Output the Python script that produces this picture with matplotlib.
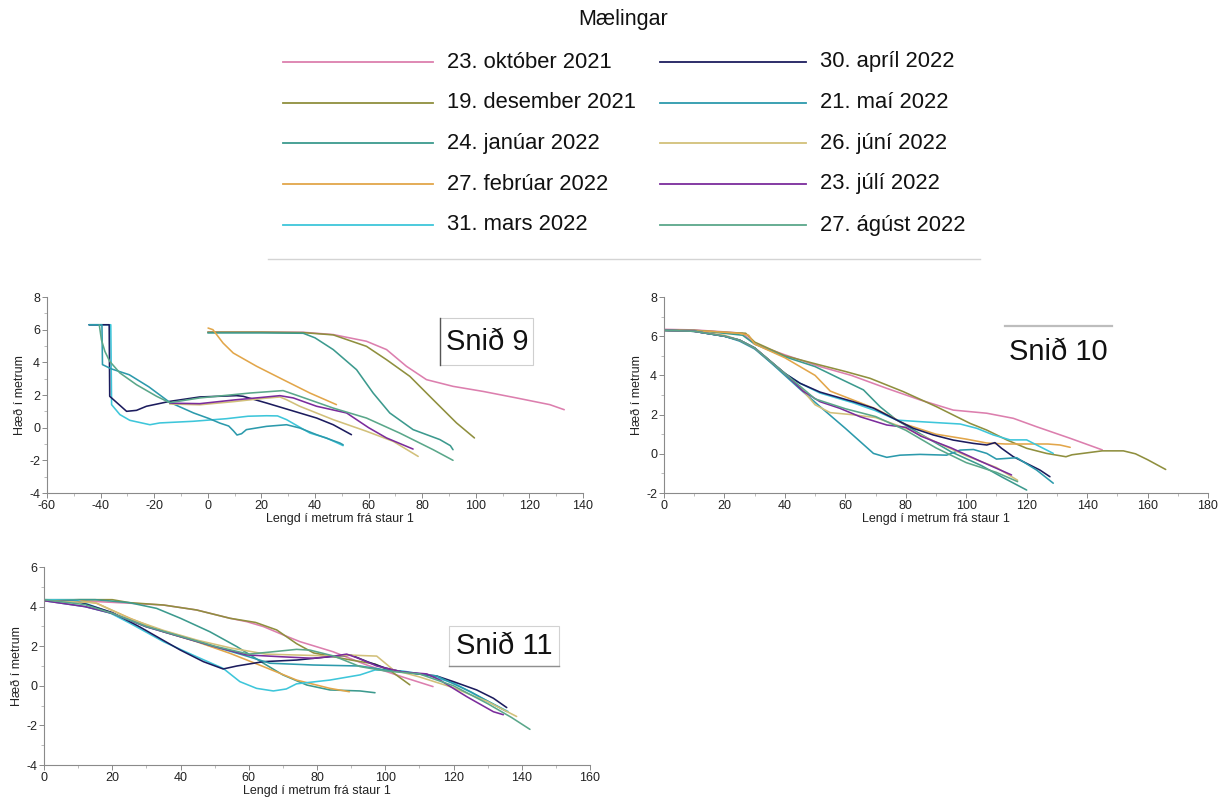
import matplotlib
matplotlib.use("Agg")
import matplotlib.pyplot as plt
from matplotlib.lines import Line2D
from matplotlib.patches import Rectangle
from matplotlib.ticker import MultipleLocator

plt.rcParams['font.family'] = ['Liberation Sans', 'DejaVu Sans']
plt.rcParams['axes.unicode_minus'] = False

# ---------------------------------------------------------------- legend
dates = ["23. október 2021", "19. desember 2021", "24. janúar 2022",
         "27. febrúar 2022", "31. mars 2022", "30. apríl 2022",
         "21. maí 2022", "26. júní 2022", "23. júlí 2022", "27. ágúst 2022"]
colors = ["#dc7fae", "#8f8f3e", "#3c9a8e", "#e2a64a", "#3ec6da",
          "#1c1c5e", "#2c9aac", "#d2c07a", "#7b2c9c", "#5aa78a"]
keys = ["okt", "des", "jan", "feb", "mars", "apr", "mai", "jun", "jul", "agu"]

# ---------------------------------------------------------------- Snið 9
s9_okt_x = [0, 20, 35.6, 46.8, 59.2, 66.7, 74.1, 81.6, 91.5, 102.7, 115.2, 127.6, 133]
s9_okt_y = [5.85, 5.85, 5.84, 5.7, 5.29, 4.78, 3.76, 2.94, 2.53, 2.22, 1.82, 1.41, 1.1]
s9_des_x = [0, 20, 35.6, 46.8, 59.2, 66.7, 75.4, 84.1, 92.8, 99.5]
s9_des_y = [5.85, 5.85, 5.82, 5.68, 4.98, 4.16, 3.14, 1.71, 0.29, -0.63]
s9_jan_x = [0, 20, 35.6, 40, 46.8, 55.5, 61.7, 67.9, 76.6, 86.6, 90.5, 91.5]
s9_jan_y = [5.8, 5.8, 5.78, 5.5, 4.78, 3.55, 2.12, 0.9, -0.12, -0.73, -1.1, -1.35]
s9_feb_x = [0.1, 1.9, 5.7, 9.5, 18.2, 28.1, 38.1, 48]
s9_feb_y = [6.1, 6.0, 5.18, 4.57, 3.76, 2.94, 2.12, 1.41]
s9_mars_x = [-44.3, -36.2, -35.9, -32.8, -29.1, -21.6, -17.9, -5.5, 7, 15, 21.9, 26, 29.4, 38.1, 44.3, 50.5]
s9_mars_y = [6.3, 6.3, 1.41, 0.8, 0.45, 0.18, 0.29, 0.39, 0.55, 0.7, 0.73, 0.72, 0.49, -0.33, -0.63, -1.1]
s9_apr_x = [-44.3, -36.8, -36.6, -30.3, -26.6, -22.9, -14.2, -3, 10.7, 13.2, 21.9, 34.3, 40.6, 46.8, 53.6]
s9_apr_y = [6.3, 6.3, 1.92, 1.0, 1.06, 1.31, 1.61, 1.88, 1.96, 1.92, 1.51, 0.9, 0.59, 0.18, -0.43]
s9_mai_x = [-44.3, -39.5, -39.3, -36, -29.3, -22, -14.2, -5.3, 0.6, 4.5, 7.8, 9.6, 10.9, 12.6, 14.4,
            21.9, 29.4, 34.3, 40.6, 49.3, 50.5]
s9_mai_y = [6.3, 6.3, 3.86, 3.6, 3.24, 2.5, 1.55, 0.9, 0.55, 0.28, 0.1, -0.2, -0.45, -0.37, -0.12,
            0.08, 0.18, -0.02, -0.43, -0.94, -1.05]
s9_jun_x = [-14.2, -3, 10, 20, 26.9, 29.4, 34.3, 46.8, 59.2, 69.2, 78.5]
s9_jun_y = [1.45, 1.4, 1.6, 1.78, 1.88, 1.71, 1.31, 0.49, -0.22, -0.84, -1.76]
s9_jul_x = [-14.2, -3, 10, 20, 26.9, 31.9, 40.6, 51.8, 60, 66.7, 76.6]
s9_jul_y = [1.5, 1.47, 1.7, 1.85, 1.96, 1.82, 1.31, 0.9, 0.0, -0.63, -1.31]
s9_agu_x = [-40.5, -39.7, -38.4, -36.6, -32.8, -26.6, -19.1, -14.2, -3, 15.7, 28.1, 34.3, 46.8,
            59.2, 71.6, 84.1, 91.5]
s9_agu_y = [6.3, 5.39, 4.67, 4.06, 3.35, 2.63, 1.92, 1.53, 1.82, 2.12, 2.27, 1.92, 1.2,
            0.59, -0.33, -1.35, -2.0]

# ---------------------------------------------------------------- Snið 10
s10_okt_x = [0, 10, 20, 26, 30, 40, 51.6, 62, 73.7, 84.7, 95.7, 106.8, 115.6, 123.3, 134.4, 145]
s10_okt_y = [6.35, 6.32, 6.22, 6.15, 5.6, 5.05, 4.45, 4.0, 3.34, 2.75, 2.23, 2.07, 1.81, 1.38, 0.79, 0.2]
s10_des_x = [0, 10, 20, 27, 30, 40, 51.6, 60, 68.2, 79.2, 90.2, 101.3, 106.8, 113.4, 120, 126.6,
             133, 135, 140, 145, 152, 156, 160, 166]
s10_des_y = [6.3, 6.3, 6.2, 6.15, 5.7, 5.0, 4.53, 4.2, 3.85, 3.17, 2.4, 1.55, 1.21, 0.71, 0.28, 0.02,
             -0.15, -0.05, 0.05, 0.15, 0.15, 0.0, -0.3, -0.8]
s10_jan_x = [0, 10, 20, 26, 30, 40, 50, 58, 66, 71.5, 77, 85, 95, 105, 112, 120]
s10_jan_y = [6.3, 6.28, 6.15, 6.05, 5.6, 4.95, 4.45, 3.85, 3.26, 2.4, 1.72, 1.0, 0.1, -0.6, -1.2, -1.85]
s10_feb_x = [0, 15, 25, 28, 30, 40, 50, 55, 60, 70, 80, 90, 100, 106.8, 113, 120, 127, 131, 134.4]
s10_feb_y = [6.3, 6.25, 6.15, 6.05, 5.6, 4.9, 4.0, 3.2, 2.9, 2.3, 1.5, 1.0, 0.75, 0.55, 0.5, 0.5,
             0.5, 0.45, 0.33]
s10_mars_x = [0, 10, 20, 25, 30, 35, 40, 45, 51.6, 62.6, 70, 77, 84.7, 98, 103.5, 109, 114.5, 120,
              123.3, 128.8]
s10_mars_y = [6.3, 6.25, 6.0, 5.8, 5.4, 4.7, 4.1, 3.6, 3.1, 2.6, 2.2, 1.72, 1.64, 1.52, 1.3, 0.96,
              0.71, 0.71, 0.45, 0.02]
s10_apr_x = [0, 10, 20, 25, 30, 35, 40, 45, 51.6, 62.6, 69.3, 75.9, 82.5, 89.1, 95.7, 102.4, 106.8,
             109.5, 111.7, 115.6, 120, 124.4, 127.7]
s10_apr_y = [6.3, 6.25, 6.0, 5.8, 5.4, 4.75, 4.1, 3.6, 3.15, 2.66, 2.33, 1.81, 1.3, 0.96, 0.7, 0.53,
             0.45, 0.57, 0.28, -0.15, -0.49, -0.83, -1.17]
s10_mai_x = [0, 10, 20, 25, 30, 35, 40, 45, 51.6, 60, 69.3, 73.7, 78.1, 84.7, 93.5, 98, 102.4, 106.8,
             110, 116.7, 123.3, 128.8]
s10_mai_y = [6.3, 6.25, 6.0, 5.75, 5.35, 4.7, 4.0, 3.3, 2.41, 1.3, 0.02, -0.18, -0.07, -0.03, -0.07,
             0.19, 0.22, 0.02, -0.27, -0.2, -0.83, -1.5]
s10_jun_x = [0, 10, 20, 25, 30, 40, 45, 50, 55, 62, 70, 80, 90, 100, 110, 117]
s10_jun_y = [6.3, 6.25, 6.05, 5.8, 5.4, 4.1, 3.4, 2.5, 2.1, 2.0, 1.85, 1.3, 0.6, -0.1, -0.7, -1.35]
s10_jul_x = [0, 10, 20, 25, 30, 40, 46, 51.6, 58.2, 64.9, 73.7, 80, 85, 95, 105, 115]
s10_jul_y = [6.3, 6.25, 6.0, 5.8, 5.4, 4.1, 3.2, 2.66, 2.32, 1.89, 1.47, 1.35, 0.9, 0.3, -0.4, -1.08]
s10_agu_x = [0, 10, 20, 25, 30, 40, 50, 60, 70, 80, 90, 100, 110, 117]
s10_agu_y = [6.3, 6.25, 6.0, 5.8, 5.4, 4.1, 2.8, 2.3, 1.9, 1.2, 0.3, -0.45, -0.95, -1.42]

# ---------------------------------------------------------------- Snið 11
s11_okt_x = [0, 10, 25.2, 35, 44.7, 54.5, 59.4, 64.3, 70.1, 75, 84.7, 94.6, 105, 114]
s11_okt_y = [4.3, 4.3, 4.17, 4.08, 3.83, 3.41, 3.24, 2.99, 2.57, 2.23, 1.72, 1.05, 0.45, -0.04]
s11_des_x = [0, 10, 20, 25, 35, 44.7, 54.5, 62, 68.2, 74, 79, 90, 97, 102, 107.2]
s11_des_y = [4.3, 4.35, 4.35, 4.2, 4.08, 3.83, 3.41, 3.2, 2.82, 2.13, 1.66, 1.3, 1.1, 0.7, 0.05]
s11_jan_x = [0, 15, 25, 33, 40, 48.6, 56.5, 64.3, 70, 77, 83.8, 92.6, 97]
s11_jan_y = [4.35, 4.35, 4.2, 3.91, 3.41, 2.73, 1.98, 1.14, 0.55, 0.04, -0.21, -0.26, -0.35]
s11_feb_x = [0, 10, 15.4, 25.2, 35, 44.7, 54.5, 64.3, 74, 83.8, 89.5]
s11_feb_y = [4.3, 4.3, 4.17, 3.41, 2.73, 2.23, 1.64, 0.97, 0.29, -0.13, -0.3]
s11_mars_x = [0, 10, 18, 25.2, 35, 44.7, 52.5, 57.4, 62.3, 67.2, 71, 74, 83.8, 92.6, 97, 105, 112,
              120, 128, 136]
s11_mars_y = [4.35, 4.3, 3.8, 3.16, 2.23, 1.47, 0.88, 0.21, -0.13, -0.26, -0.16, 0.1, 0.29, 0.55,
              0.8, 0.75, 0.55, 0.15, -0.6, -1.3]
s11_apr_x = [0, 10, 20, 28, 39.9, 46.7, 52.5, 56.5, 64.3, 74, 83.8, 90, 95, 100, 105, 112, 115, 120,
             126.8, 131.7, 135.6]
s11_apr_y = [4.3, 4.25, 3.7, 2.98, 1.81, 1.22, 0.85, 1.0, 1.22, 1.3, 1.47, 1.55, 1.2, 0.9, 0.7, 0.55,
             0.5, 0.21, -0.21, -0.63, -1.1]
s11_mai_x = [0, 12, 20, 30, 40, 50, 59.4, 66.2, 78.9, 92.6, 100, 110, 115, 125, 135.6]
s11_mai_y = [4.3, 4.0, 3.65, 2.98, 2.48, 1.98, 1.5, 1.14, 1.05, 1.0, 0.8, 0.6, 0.5, -0.3, -1.3]
s11_jun_x = [0, 15, 25, 35, 45, 55, 65, 75, 85, 89.7, 97.5, 102.4, 110, 120, 130, 138.5]
s11_jun_y = [4.3, 4.2, 3.4, 2.8, 2.3, 1.9, 1.6, 1.55, 1.5, 1.55, 1.5, 0.8, 0.45, -0.1, -0.8, -1.55]
s11_jul_x = [0, 12, 20, 30, 40, 50, 59.4, 69.2, 78.9, 85, 88.7, 92, 97.5, 105, 112.2, 116, 123.9,
             131.7, 134.6]
s11_jul_y = [4.3, 4.0, 3.66, 2.98, 2.48, 1.98, 1.56, 1.47, 1.39, 1.5, 1.6, 1.4, 1.0, 0.7, 0.6, 0.29,
             -0.55, -1.31, -1.46]
s11_agu_x = [0, 12, 20, 30, 40, 50, 60, 66, 74, 78, 85, 92.6, 100, 110, 120, 130, 137, 142.4]
s11_agu_y = [4.35, 4.1, 3.66, 3.0, 2.5, 2.0, 1.6, 1.7, 1.84, 1.8, 1.5, 0.97, 0.75, 0.6, 0.0, -0.9,
             -1.6, -2.2]

W, H = 1227, 808
fig = plt.figure(figsize=(W / 100, H / 100), dpi=100)
fig.patch.set_facecolor("white")


def fx(px):
    return px / W


def fy(py):
    return 1 - py / H


def series(prefix):
    g = globals()
    return [(g[f"{prefix}_{k}_x"], g[f"{prefix}_{k}_y"]) for k in keys]


def make_axes(x0, x1, y0, y1):
    return fig.add_axes([fx(x0), fy(y1), fx(x1) - fx(x0), fy(y0) - fy(y1)])


def style(ax, xlim, ylim, xmaj, xlabel_x=0.5):
    ax.set_xlim(*xlim)
    ax.set_ylim(*ylim)
    for s in ("top", "right"):
        ax.spines[s].set_visible(False)
    for s in ("left", "bottom"):
        ax.spines[s].set_color("#8a8a8a")
        ax.spines[s].set_linewidth(0.8)
    ax.xaxis.set_major_locator(MultipleLocator(xmaj))
    ax.xaxis.set_minor_locator(MultipleLocator(xmaj / 2))
    ax.yaxis.set_major_locator(MultipleLocator(2))
    ax.yaxis.set_minor_locator(MultipleLocator(1))
    ax.tick_params(which="major", length=3.5, width=0.7, color="#8a8a8a",
                   labelsize=9, labelcolor="#222222", pad=1.5)
    ax.tick_params(which="minor", length=2, width=0.6, color="#b0b0b0")
    ax.set_xlabel("Lengd í metrum frá staur 1", fontsize=9, color="#222222", labelpad=0)
    ax.set_ylabel("Hæð í metrum", fontsize=9, color="#222222", labelpad=2)
    ax.xaxis.set_label_coords(xlabel_x, -0.1)
    ax.patch.set_alpha(0)


def draw(ax, data):
    for (xs, ys), c in zip(data, colors):
        ax.plot(xs, ys, color=c, lw=1.15, solid_capstyle="round")


# Snið 9
ax9 = make_axes(47, 583, 297, 493)
draw(ax9, series("s9"))
style(ax9, (-60, 140), (-4, 8), 20, xlabel_x=0.547)

# Snið 10
ax10 = make_axes(664, 1208, 297, 493)
draw(ax10, series("s10"))
style(ax10, (0, 180), (-2, 8), 20)

# Snið 11
ax11 = make_axes(44, 590, 567, 765)
draw(ax11, series("s11"))
style(ax11, (0, 160), (-4, 6), 20)

# profile name boxes
fig.add_artist(Rectangle((fx(440), fy(365)), fx(533) - fx(440), fy(318) - fy(365),
                         transform=fig.transFigure, facecolor="white",
                         edgecolor="#cfcfcf", lw=0.8))
fig.add_artist(Line2D([fx(440), fx(440)], [fy(318), fy(365)], color="#555555", lw=1.0))
fig.text(fx(487), fy(342), "Snið 9", fontsize=21, ha="center", va="center", color="#111111")

fig.add_artist(Line2D([fx(1005), fx(1112)], [fy(326), fy(326)], color="#bdbdbd", lw=1.6))
fig.text(fx(1058), fy(352), "Snið 10", fontsize=21, ha="center", va="center", color="#111111")

fig.add_artist(Rectangle((fx(449), fy(666)), fx(559) - fx(449), fy(626) - fy(666),
                         transform=fig.transFigure, facecolor="white",
                         edgecolor="#d2d2d2", lw=0.8))
fig.add_artist(Line2D([fx(449), fx(559)], [fy(666), fy(666)], color="#8f8f8f", lw=1.0))
fig.text(fx(504), fy(646), "Snið 11", fontsize=21, ha="center", va="center", color="#111111")

# legend block
leg_font = ['Liberation Sans Narrow', 'Liberation Sans', 'DejaVu Sans']
fig.text(fx(623), fy(20), "Mælingar", fontsize=15.5, ha="center", va="center",
         family=leg_font, color="#111111")
row_y = [62, 103, 143, 184, 225]
for i, (lab, c) in enumerate(zip(dates, colors)):
    col, row = divmod(i, 5)
    lx0, lx1, tx = (283, 433, 447) if col == 0 else (660, 806, 820)
    yy = row_y[row]
    fig.add_artist(Line2D([fx(lx0), fx(lx1)], [fy(yy), fy(yy)], color=c, lw=1.3))
    fig.text(fx(tx), fy(yy), lab, fontsize=15.8, ha="left", va="center",
             family=leg_font, color="#111111")
fig.add_artist(Line2D([fx(268), fx(980)], [fy(259), fy(259)], color="#d4d4d4", lw=1.0))

fig.savefig("out.png", dpi=100, facecolor="white")
